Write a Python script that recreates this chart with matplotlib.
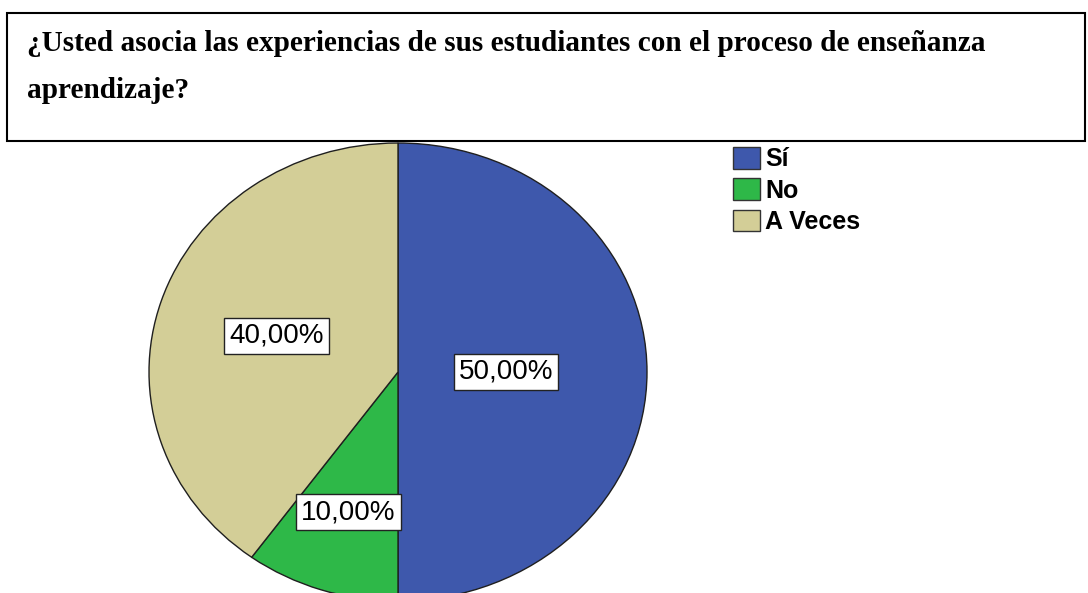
import matplotlib
matplotlib.use('Agg')
import matplotlib.pyplot as plt
import matplotlib.patches as mpatches
import numpy as np

# datos
categorias = ['Sí', 'No', 'A Veces']
porcentajes = [50.0, 10.0, 40.0]
colores = ['#3E58AC', '#2EB848', '#D3CE97']
titulo_1 = '¿Usted asocia las experiencias de sus estudiantes con el proceso de enseñanza'
titulo_2 = 'aprendizaje?'

W, H = 1088, 593
fig = plt.figure(figsize=(W / 100, H / 100), dpi=100)
fig.patch.set_facecolor('white')

# eje del pastel (algo achatado, se recorta por abajo)
cx, cy, rx, ry = 398, 372, 249, 229
ax = fig.add_axes([(cx - rx) / W, (H - cy - ry) / H, 2 * rx / W, 2 * ry / H])
wedges, _ = ax.pie(porcentajes, colors=colores, startangle=90, counterclock=False,
                   wedgeprops=dict(edgecolor='#1f1f1f', linewidth=1.0))
ax.set_aspect('auto')
ax.set_xlim(-1, 1)
ax.set_ylim(-1, 1)
ax.axis('off')

# etiquetas de porcentaje
dist = [0.434, 0.643, 0.513]
for w, p, d in zip(wedges, porcentajes, dist):
    ang = np.deg2rad((w.theta1 + w.theta2) / 2)
    txt = f'{p:.2f}%'.replace('.', ',')
    ax.text(d * np.cos(ang), d * np.sin(ang), txt, ha='center', va='center',
            fontsize=20, family='Liberation Sans', color='black',
            bbox=dict(boxstyle='square,pad=0.18', facecolor='white',
                      edgecolor='#222222', linewidth=1.0))

# recuadro del titulo
x0, y0, x1, y1 = 7, 13, 1085, 141
caja = mpatches.Rectangle((x0 / W, 1 - y1 / H), (x1 - x0) / W, (y1 - y0) / H,
                          transform=fig.transFigure, facecolor='white',
                          edgecolor='black', linewidth=1.5, zorder=5)
fig.patches.append(caja)
fig.text(27 / W, 1 - 51 / H, titulo_1, fontsize=21.1, fontweight='bold',
         family='Liberation Serif', va='baseline', ha='left', zorder=6)
fig.text(27 / W, 1 - 98 / H, titulo_2, fontsize=21.1, fontweight='bold',
         family='Liberation Serif', va='baseline', ha='left', zorder=6)

# leyenda
handles = [mpatches.Patch(facecolor=c, edgecolor='#333333', linewidth=1.0) for c in colores]
fig.legend(handles, categorias, loc='upper left', bbox_to_anchor=(733 / W, 1 - 147 / H),
           frameon=False, borderpad=0, borderaxespad=0, handlelength=1.08,
           handleheight=0.95, handletextpad=0.2, labelspacing=0.28,
           prop=dict(family='Liberation Sans', weight='bold', size=18))

fig.savefig('out.png', dpi=100, facecolor='white')
plt.close(fig)
